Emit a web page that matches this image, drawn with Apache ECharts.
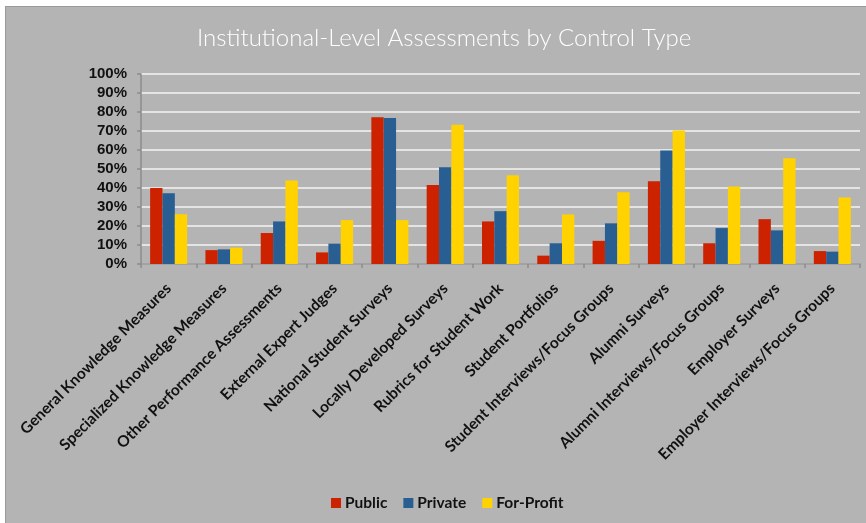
<!DOCTYPE html>
<html>
<head>
<meta charset="utf-8">
<script src="https://cdn.jsdelivr.net/npm/echarts@6/dist/echarts.min.js"></script>
<style>
html,body{margin:0;padding:0;background:#ffffff;width:866px;height:523px;overflow:hidden;}
#frame{position:absolute;left:5px;top:6px;width:861px;height:517px;background:#9a9a9a;}
#chart{position:absolute;left:6px;top:7px;width:860px;height:516px;}
</style>
</head>
<body>
<div id="frame"></div>
<div id="chart"></div>
<script>
const categories = [
  "General Knowledge Measures",
  "Specialized Knowledge Measures",
  "Other Performance Assessments",
  "External Expert Judges",
  "National Student Surveys",
  "Locally Developed Surveys",
  "Rubrics for Student Work",
  "Student Portfolios",
  "Student Interviews/Focus Groups",
  "Alumni Surveys",
  "Alumni Interviews/Focus Groups",
  "Employer Surveys",
  "Employer Interviews/Focus Groups"
];
const publicValues    = [40.0, 7.3, 16.3, 6.1, 77.2, 41.6, 22.4, 4.4, 12.2, 43.6, 10.9, 23.6, 6.8];
const privateValues   = [37.3, 7.7, 22.4, 10.7, 76.8, 50.9, 27.8, 10.9, 21.4, 59.7, 18.9, 17.7, 6.5];
const forProfitValues = [26.2, 8.6, 43.9, 23.1, 23.1, 73.3, 46.7, 26.1, 37.8, 70.2, 40.8, 55.6, 35.0];
const seriesNames = ["Public", "Private", "For-Profit"];
const titleText = "Institutional-Level Assessments by Control Type";

const chart = echarts.init(document.getElementById('chart'), null, {renderer: 'canvas'});
const colors = ['#CC2200', '#285E91', '#FFD200'];
const valueSets = [publicValues, privateValues, forProfitValues];

chart.setOption({
  backgroundColor: '#B4B4B4',
  animation: false,
  color: colors,
  title: {
    text: titleText,
    left: 186,
    top: 14,
    padding: 5,
    textStyle: {
      color: '#ffffff',
      fontFamily: 'Lato',
      fontWeight: 300,
      fontSize: 24
    }
  },
  legend: {
    data: seriesNames,
    left: 320,
    top: 483,
    itemWidth: 10,
    itemHeight: 10,
    itemGap: 16,
    icon: 'rect',
    textStyle: {
      color: '#111111',
      fontFamily: 'Lato',
      fontWeight: 'bold',
      fontSize: 15.5,
      padding: [0, 0, 0, -1]
    }
  },
  grid: {
    left: 135,
    right: 6,
    top: 67,
    height: 190,
    containLabel: false
  },
  xAxis: {
    type: 'category',
    data: categories,
    axisLine: {lineStyle: {color: '#8c8c8c', width: 1.5}},
    axisTick: {show: true, length: 4, lineStyle: {color: '#8c8c8c', width: 1.5}},
    axisLabel: {
      rotate: 45,
      interval: 0,
      margin: 22,
      color: '#111111',
      fontFamily: 'Lato',
      fontWeight: 'bold',
      fontSize: 15.5
    }
  },
  yAxis: {
    type: 'value',
    min: 0,
    max: 100,
    interval: 10,
    axisLine: {show: true, lineStyle: {color: '#8c8c8c', width: 1.5}},
    axisTick: {show: true, length: 4, lineStyle: {color: '#8c8c8c', width: 1.5}},
    axisLabel: {
      formatter: '{value}%',
      margin: 14,
      color: '#111111',
      fontFamily: 'Liberation Sans',
      fontWeight: 'bold',
      fontSize: 15
    },
    splitLine: {lineStyle: {color: '#E4E4E4', width: 2}}
  },
  series: seriesNames.map((name, i) => ({
    name: name,
    type: 'bar',
    data: valueSets[i],
    barGap: '0%',
    barCategoryGap: '33%',
    itemStyle: {color: colors[i]}
  }))
});
</script>
</body>
</html>
